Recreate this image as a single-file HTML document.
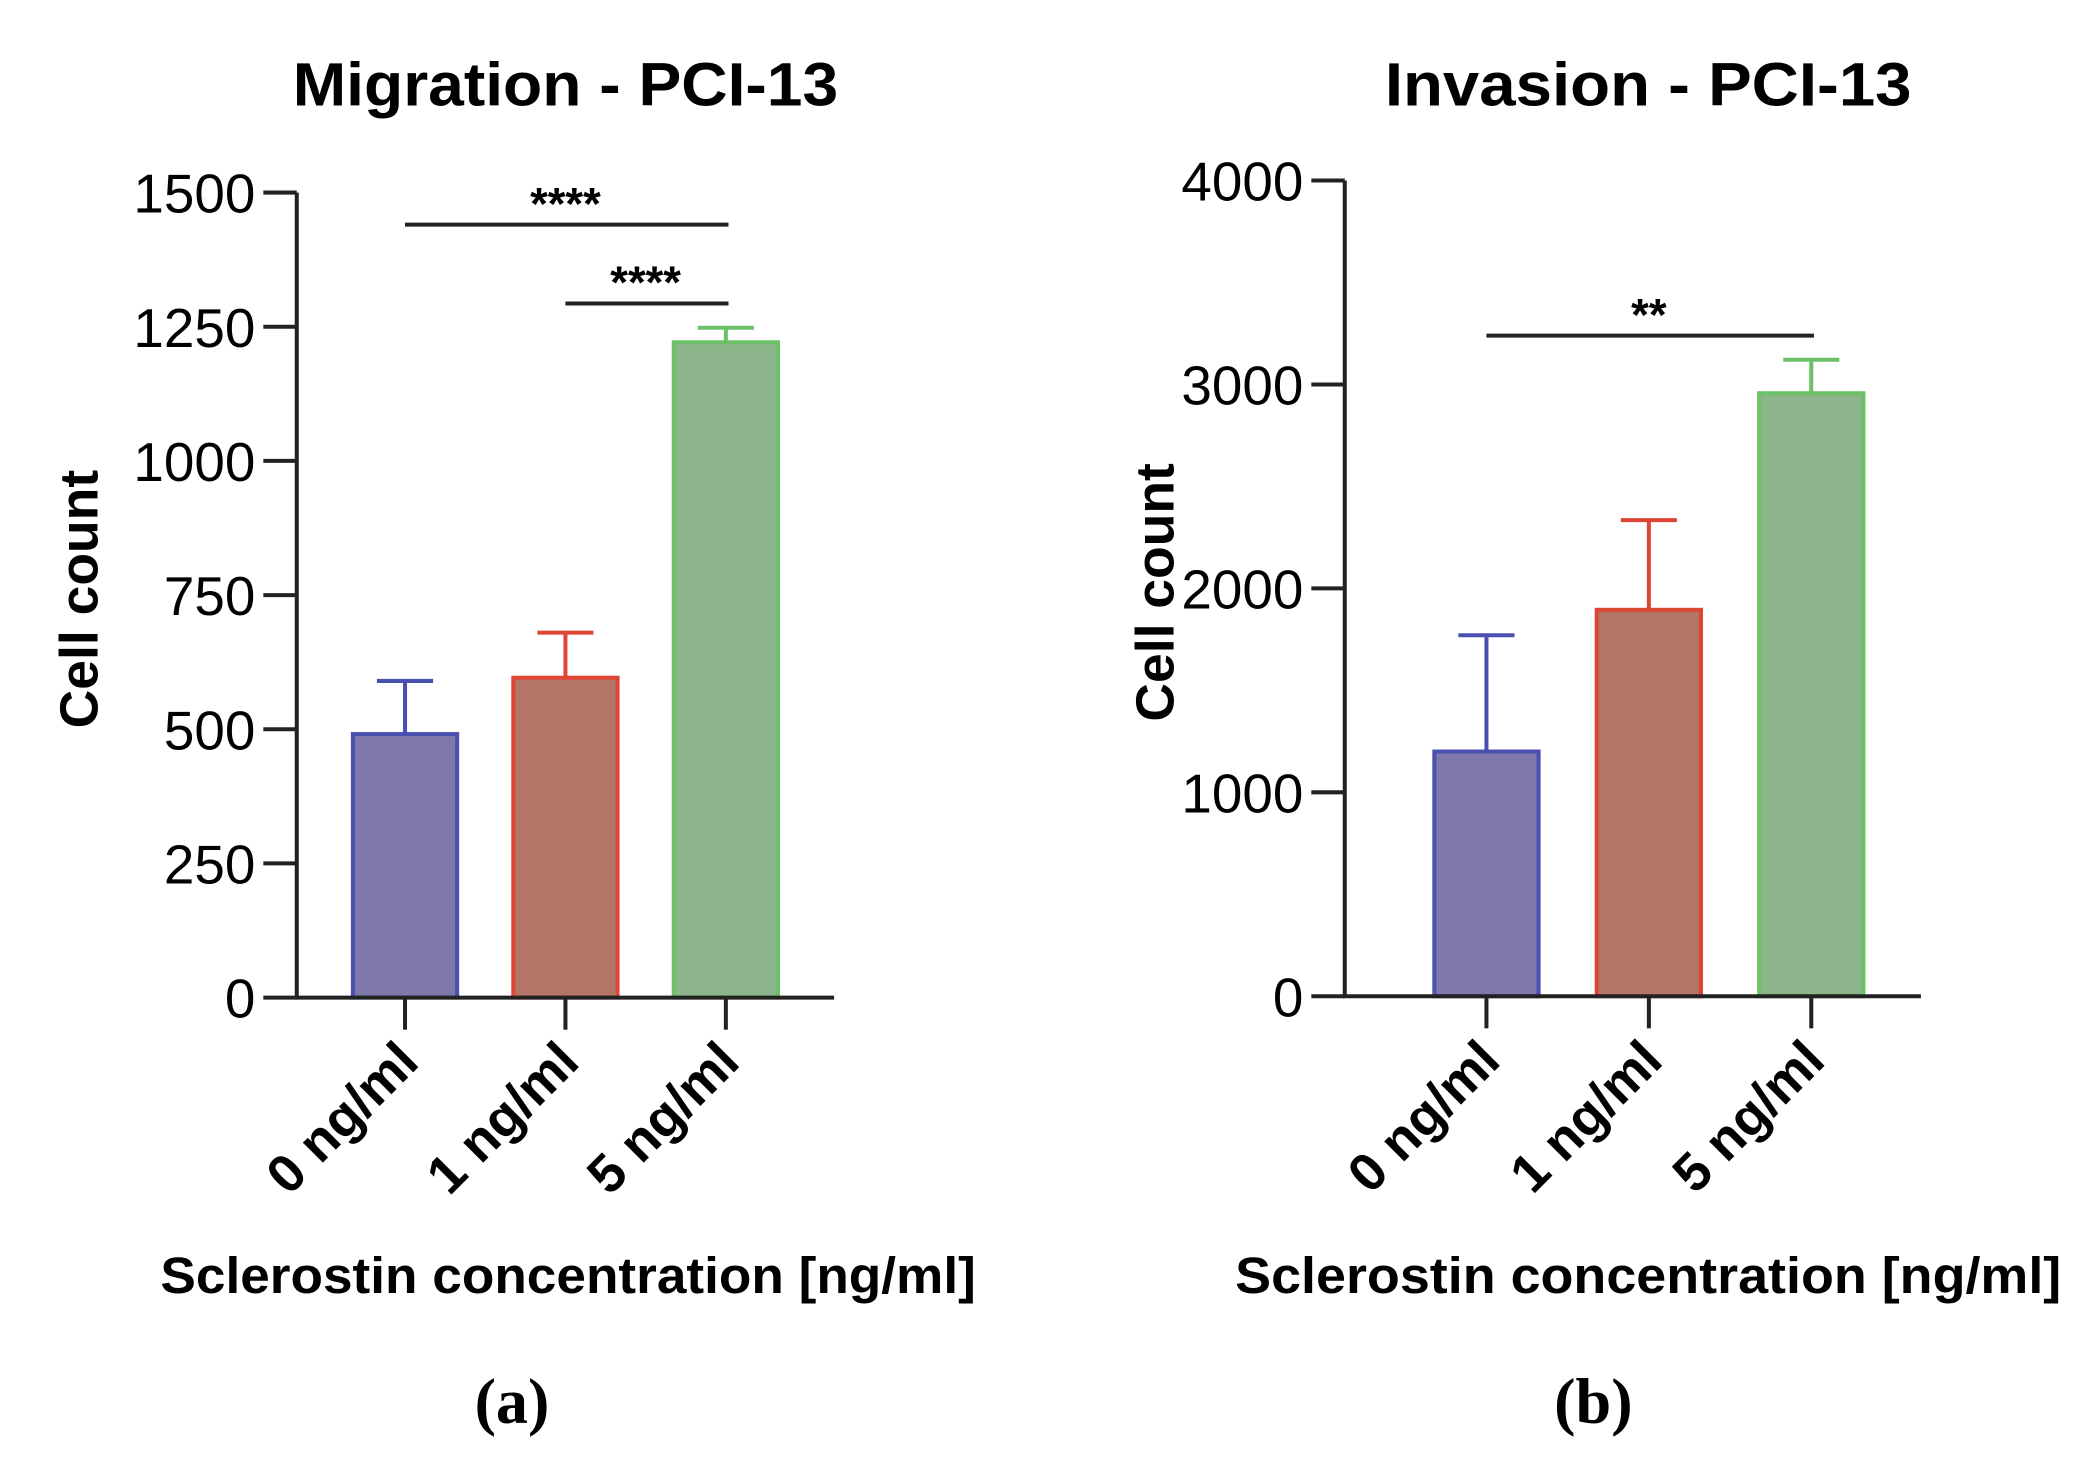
<!DOCTYPE html>
<html><head><meta charset="utf-8">
<style>html,body{margin:0;padding:0;background:#fff;}svg{display:block;}</style></head>
<body>
<svg id="fig" width="2096" height="1483" viewBox="0 0 1568 1109" preserveAspectRatio="none" xmlns="http://www.w3.org/2000/svg" font-family="Liberation Sans, sans-serif"></svg>
<script>
const categories = ["0 ng/ml", "1 ng/ml", "5 ng/ml"];
const migrationValues = [491, 596, 1221];
const migrationErrors = [590, 680, 1248];
const migrationTicks = [0, 250, 500, 750, 1000, 1250, 1500];
const invasionValues = [1200, 1895, 2957];
const invasionErrors = [1770, 2335, 3121];
const invasionTicks = [0, 1000, 2000, 3000, 4000];
const migrationSig = [[0, 2, "****"], [1, 2, "****"]];
const invasionSig = [[0, 2, "**"]];

const fills = ["#7f79ab", "#b37565", "#8db58b"];
const strokes = ["#4a50b0", "#dd4535", "#6cc068"];
const NS = "http://www.w3.org/2000/svg";
const svg = document.getElementById("fig");
function mk(tag, attrs, parent) {
  const e = document.createElementNS(NS, tag);
  for (const k in attrs) e.setAttribute(k, attrs[k]);
  (parent || svg).appendChild(e);
  return e;
}
function panel(cfg) {
  const g = mk("g", {});
  
  
  const yMax = cfg.ticks[cfg.ticks.length - 1];
  const y = v => cfg.y0 - (v / yMax) * (cfg.y0 - cfg.yTop);
  const x = i => cfg.x0 + cfg.step * i;
  const t = mk("text", {x: cfg.titleX, y: 79, "text-anchor": "middle", "font-size": 46, "font-weight": "bold", textLength: cfg.titleLen, lengthAdjust: "spacingAndGlyphs"}, g);
  t.textContent = cfg.title;
  
  
  for (let i = 0; i < categories.length; i++) {
    const cx = x(i);
    const v = cfg.values[i], e = cfg.errors[i];
    const err = mk("path", {d: `M${cx},${y(v)}V${y(e)}M${cx-21},${y(e)}H${cx+21}`, stroke: strokes[i], "stroke-width": 3, fill: "none"}, g);
    
    
    const r = mk("rect", {x: cx - 39, y: y(v), width: 78, height: y(0) - y(v), fill: fills[i], stroke: strokes[i], "stroke-width": 3}, g);
    
    
  }
  const ax = mk("path", {d: `M${cfg.axX},${cfg.yTop}V${cfg.y0}H${cfg.xEnd}`, stroke: "#222", "stroke-width": 3, fill: "none"}, g);
  
  
  cfg.ticks.forEach(tv => {
    const tk = mk("line", {x1: cfg.axX - 25, x2: cfg.axX, y1: y(tv), y2: y(tv), stroke: "#222", "stroke-width": 3}, g);
    
    
    const lb = mk("text", {x: cfg.axX - 31, y: y(tv) + 15, "text-anchor": "end", "font-size": 41}, g);
    lb.textContent = tv;
    
    
  });
  categories.forEach((c, i) => {
    const tk = mk("line", {x1: x(i), x2: x(i), y1: cfg.y0, y2: cfg.y0 + 24, stroke: "#222", "stroke-width": 3}, g);
    
    
    const lb = mk("text", {x: x(i) + 12, y: cfg.y0 + 50, "text-anchor": "end", "font-size": 40, "font-weight": "bold", transform: `rotate(-45 ${x(i)+12} ${cfg.y0+50})`}, g);
    lb.textContent = c;
    
    
  });
  const yl = mk("text", {x: 0, y: 0, "text-anchor": "middle", "font-size": 40, "font-weight": "bold", transform: `translate(${cfg.ylX},${cfg.ylY}) rotate(-90)`}, g);
  yl.textContent = "Cell count";
  
  
  const xl = mk("text", {x: cfg.xlX, y: 967, "text-anchor": "middle", "font-size": 38, "font-weight": "bold", textLength: cfg.xlLen, lengthAdjust: "spacingAndGlyphs"}, g);
  xl.textContent = "Sclerostin concentration [ng/ml]";
  
  
  cfg.sig.forEach((s, k) => {
    const ly = cfg.sigY[k];
    const ln = mk("line", {x1: x(s[0]), x2: x(s[1]) + 2, y1: ly, y2: ly, stroke: "#222", "stroke-width": 3}, g);
    
    
    const st = mk("text", {x: (x(s[0]) + x(s[1])) / 2, y: ly - 4, "text-anchor": "middle", "font-size": 34, "font-weight": "bold"}, g);
    st.textContent = s[2];
    
    
  });
  const pl = mk("text", {x: cfg.labX, y: 1064, "text-anchor": "middle", "font-size": 48, "font-weight": "bold", "font-family": "Liberation Serif, serif"}, g);
  pl.textContent = cfg.panelLabel;
  
  
}
panel({name: "migration-chart", title: "Migration - PCI-13", titleX: 423, titleLen: 408, values: migrationValues, errors: migrationErrors, ticks: migrationTicks,
  y0: 746, yTop: 144, axX: 222, xEnd: 624, x0: 303, step: 120, ylX: 73, ylY: 448, sig: migrationSig, sigY: [168, 227], labX: 383, panelLabel: "(a)",
  xlX: 425, xlLen: 610});
panel({name: "invasion-chart", title: "Invasion - PCI-13", titleX: 1233, titleLen: 394, values: invasionValues, errors: invasionErrors, ticks: invasionTicks,
  y0: 745, yTop: 135, axX: 1006, xEnd: 1437, x0: 1112, step: 121.5, ylX: 878, ylY: 443, sig: invasionSig, sigY: [251], labX: 1192, panelLabel: "(b)",
  xlX: 1233, xlLen: 618});
</script>
</body></html>
